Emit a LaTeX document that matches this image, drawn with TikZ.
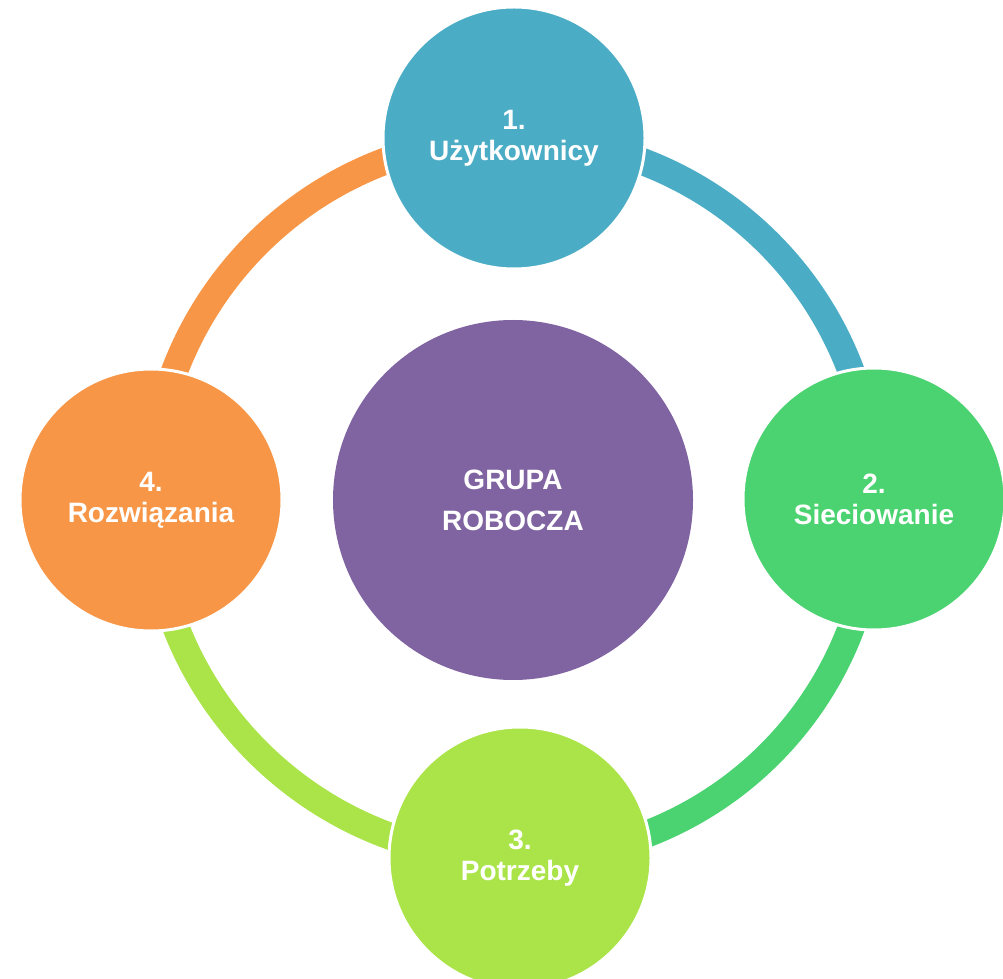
\documentclass[tikz,border=0pt]{standalone}
\usepackage{fontspec}
\setmainfont{Liberation Sans}
\definecolor{cblue}{RGB}{75,172,198}
\definecolor{cgreen}{RGB}{74,211,112}
\definecolor{clime}{RGB}{170,228,72}
\definecolor{corange}{RGB}{247,150,70}
\definecolor{cpurple}{RGB}{128,100,162}
\pgfdeclarelayer{bg}
\pgfsetlayers{bg,main}
\begin{document}
\begin{tikzpicture}[x=1pt,y=1pt,
  stage/.style={circle, draw=white, line width=3pt, minimum size=262pt, inner sep=0pt,
    text=white, align=center, font=\fontsize{28}{31}\selectfont\bfseries},
  hub/.style={circle, fill=cpurple, minimum size=360pt, inner sep=0pt,
    text=white, align=center, font=\fontsize{28}{41}\selectfont\bfseries},
  ring/.style={line width=27pt}]
\useasboundingbox (0,0) rectangle (1003,978);
\node[hub] (hub) at (513,478) {GRUPA\\ROBOCZA};
\node[stage, fill=cblue] (top) at (514,840) {1.\\Użytkownicy};
\node[stage, fill=cgreen] (right) at (874,479) {2.\\Sieciowanie};
\node[stage, fill=clime] (bottom) at (520,120) {3.\\Potrzeby};
\node[stage, fill=corange] (left) at (151,478) {4.\\Rozwiązania};
\begin{pgfonlayer}{bg}
\draw[ring, cblue] (top.center) to[bend left=45] (right.center);
\draw[ring, cgreen] (right.center) to[bend left=45] (bottom.center);
\draw[ring, clime] (bottom.center) to[bend left=45] (left.center);
\draw[ring, corange] (left.center) to[bend left=45] (top.center);
\end{pgfonlayer}
\end{tikzpicture}
\end{document}
